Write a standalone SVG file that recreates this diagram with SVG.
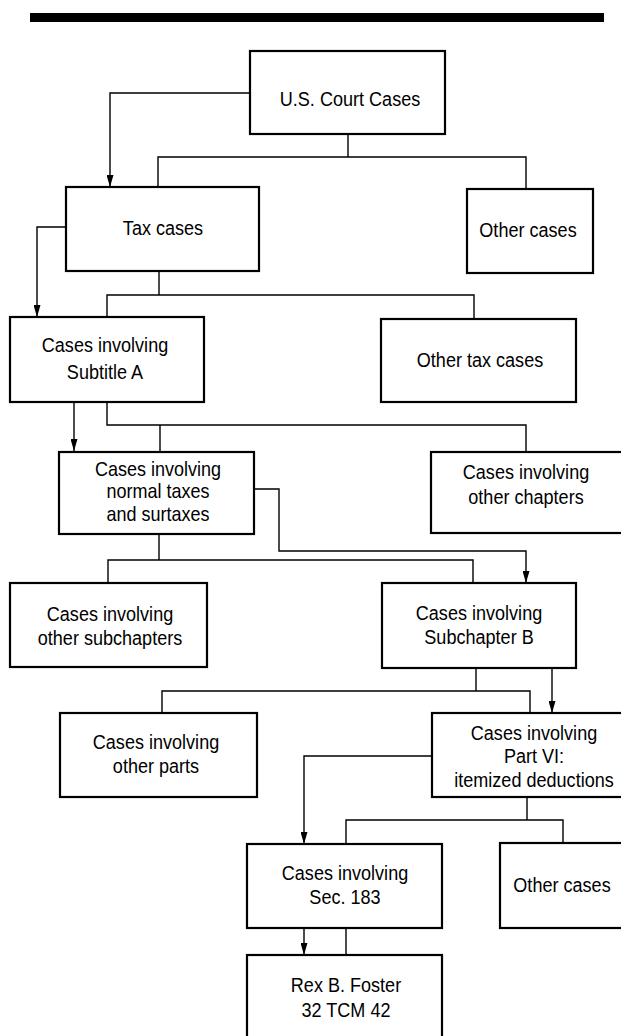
<svg xmlns="http://www.w3.org/2000/svg" width="621" height="1036" viewBox="0 0 621 1036">
<style>
.box{fill:#fff;stroke:#000;stroke-width:2.2}
.con{fill:none;stroke:#000;stroke-width:1.4}
text{font-family:"Liberation Sans",Arial,Helvetica,sans-serif;font-size:21px;fill:#000;text-anchor:middle}
text.tight{font-size:20px}
</style>
<defs>
<marker id="arr" markerUnits="userSpaceOnUse" markerWidth="12" markerHeight="7" refX="12" refY="3.5" orient="auto">
<path d="M0,0 L12,3.5 L0,7 Z" fill="#000"/>
</marker>
</defs>
<rect x="30" y="13" width="574" height="9" fill="#000"/>
<g id="connectors">
<path class="con" d="M250,93 H110 V187" marker-end="url(#arr)"/>
<path class="con" d="M348,134 V157 M158,187 V157 H526 V189"/>
<path class="con" d="M66,227 H37 V317" marker-end="url(#arr)"/>
<path class="con" d="M159,271 V295 M107,317 V295 H474 V319"/>
<path class="con" d="M74,402 V451" marker-end="url(#arr)"/>
<path class="con" d="M107,402 V425 H526 V452 M160,425 V452"/>
<path class="con" d="M254,489 H279 V551 H526 V583" marker-end="url(#arr)"/>
<path class="con" d="M159,534 V560 M108,583 V560 H473 V583"/>
<path class="con" d="M476,668 V691 M162,713 V691 H530 V713"/>
<path class="con" d="M552,668 V713" marker-end="url(#arr)"/>
<path class="con" d="M432,756 H304 V844" marker-end="url(#arr)"/>
<path class="con" d="M527,797 V820 M346,844 V820 H563 V843"/>
<path class="con" d="M304,928 V955" marker-end="url(#arr)"/>
<path class="con" d="M346,928 V955"/>
</g>
<g id="n-us"><rect class="box" x="250" y="51" width="195" height="83"/><text transform="matrix(.86 0 0 1 350 0)" x="0" y="106">U.S. Court Cases</text></g>
<g id="n-tax"><rect class="box" x="66" y="187" width="193" height="84"/><text transform="matrix(.86 0 0 1 163 0)" x="0" y="235">Tax cases</text></g>
<g id="n-other1"><rect class="box" x="467" y="189" width="126" height="84"/><text transform="matrix(.86 0 0 1 528 0)" x="0" y="237">Other cases</text></g>
<g id="n-subA"><rect class="box" x="10" y="317" width="194" height="85"/><text transform="matrix(.86 0 0 1 105 0)"><tspan x="0" y="352">Cases involving</tspan><tspan x="0" y="379">Subtitle A</tspan></text></g>
<g id="n-othertax"><rect class="box" x="381" y="319" width="195" height="83"/><text transform="matrix(.86 0 0 1 480 0)" x="0" y="367">Other tax cases</text></g>
<g id="n-normal"><rect class="box" x="59" y="452" width="195" height="82"/><text class="tight" transform="matrix(.9 0 0 1 158 0)"><tspan x="0" y="476">Cases involving</tspan><tspan x="0" y="498.5">normal taxes</tspan><tspan x="0" y="521">and surtaxes</tspan></text></g>
<g id="n-otherch"><rect class="box" x="431" y="452" width="195" height="81"/><text transform="matrix(.86 0 0 1 526 0)"><tspan x="0" y="479">Cases involving</tspan><tspan x="0" y="504">other chapters</tspan></text></g>
<g id="n-othersub"><rect class="box" x="10" y="583" width="197" height="84"/><text transform="matrix(.86 0 0 1 110 0)"><tspan x="0" y="621">Cases involving</tspan><tspan x="0" y="645">other subchapters</tspan></text></g>
<g id="n-subB"><rect class="box" x="382" y="583" width="194" height="85"/><text transform="matrix(.86 0 0 1 479 0)"><tspan x="0" y="620">Cases involving</tspan><tspan x="0" y="644">Subchapter B</tspan></text></g>
<g id="n-otherparts"><rect class="box" x="60" y="713" width="197" height="84"/><text transform="matrix(.86 0 0 1 156 0)"><tspan x="0" y="749">Cases involving</tspan><tspan x="0" y="773">other parts</tspan></text></g>
<g id="n-partVI"><rect class="box" x="432" y="713" width="200" height="84"/><text transform="matrix(.86 0 0 1 534 0)"><tspan x="0" y="740">Cases involving</tspan><tspan x="0" y="763.5">Part VI:</tspan><tspan x="0" y="787">itemized deductions</tspan></text></g>
<g id="n-sec183"><rect class="box" x="247" y="844" width="195" height="84"/><text transform="matrix(.86 0 0 1 345 0)"><tspan x="0" y="880">Cases involving</tspan><tspan x="0" y="904">Sec. 183</tspan></text></g>
<g id="n-other2"><rect class="box" x="500" y="843" width="125" height="85"/><text transform="matrix(.86 0 0 1 562 0)" x="0" y="892">Other cases</text></g>
<g id="n-rex"><rect class="box" x="247" y="955" width="195" height="90"/><text transform="matrix(.86 0 0 1 346 0)"><tspan x="0" y="992">Rex B. Foster</tspan><tspan x="0" y="1017">32 TCM 42</tspan></text></g>
</svg>
